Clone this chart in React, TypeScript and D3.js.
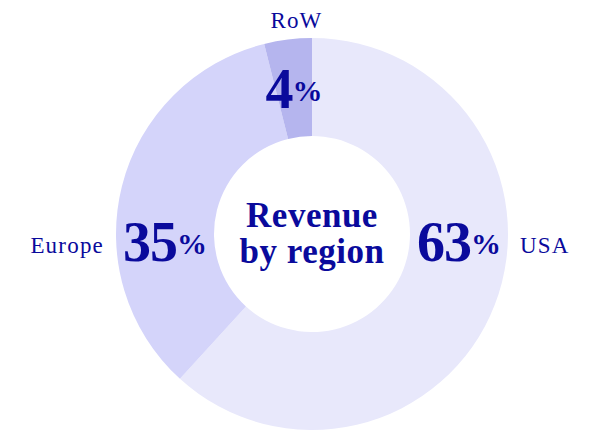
import { useEffect, useRef } from 'react';
import * as d3 from 'd3';

const regions = ['USA', 'Europe', 'RoW'];
const shares = [63, 35, 4];
const fills = ['#e8e8fb', '#d4d4fa', '#b5b5ee'];
const titleLines = ['Revenue', 'by region'];

const W = 595;
const H = 430;
const INK = '#0a0a9c';

export default function App() {
    const svgRef = useRef<SVGSVGElement>(null);

    useEffect(() => {
        if (!svgRef.current) return;
        d3.select(svgRef.current).selectAll('*').remove();

        const cx = 312;
        const cy = 234;
        const outer = 196;
        const inner = 98;
        const mid = (outer + inner) / 2;

        const data = regions.map((name, i) => ({ name, value: shares[i], fill: fills[i] }));

        const pie = d3.pie<typeof data[0]>()
            .sort(null)
            .value(d => d.value);

        const arc = d3.arc<d3.PieArcDatum<typeof data[0]>>()
            .innerRadius(inner)
            .outerRadius(outer);

        const arcs = pie(data);

        const svg = d3.select(svgRef.current);
        const g = svg.append('g').attr('transform', `translate(${cx},${cy})`);

        g.selectAll('path')
            .data(arcs)
            .enter()
            .append('path')
            .attr('d', arc)
            .attr('fill', d => d.data.fill);

        // side slices get their labels at 3 / 9 o'clock, small ones at the centroid
        const labelAngle = (d: d3.PieArcDatum<typeof data[0]>) => {
            if (d.startAngle <= Math.PI / 2 && d.endAngle >= Math.PI / 2) return Math.PI / 2;
            if (d.startAngle <= Math.PI * 1.5 && d.endAngle >= Math.PI * 1.5) return Math.PI * 1.5;
            return (d.startAngle + d.endAngle) / 2;
        };

        arcs.forEach(d => {
            const a = labelAngle(d);
            const side = Math.abs(Math.sin(a));
            const yc = -mid * Math.cos(a) + 8 * side;
            const x = mid * Math.sin(a);

            const t = g.append('text')
                .attr('x', x)
                .attr('y', yc + 19)
                .attr('text-anchor', 'middle')
                .style('font-family', '"Liberation Serif", "Times New Roman", serif')
                .style('font-weight', 700)
                .style('fill', INK);
            t.append('tspan')
                .style('font-size', '56px')
                .style('letter-spacing', '-1px')
                .text(d.data.value);
            t.append('tspan')
                .attr('dy', -7)
                .style('font-size', '30px')
                .text('%');

            const r2 = outer + 12;
            const nx = r2 * Math.sin(a);
            const ny = -r2 * Math.cos(a);
            const anchor = Math.sin(a) > 0.3 ? 'start' : Math.sin(a) < -0.3 ? 'end' : 'middle';
            g.append('text')
                .attr('x', anchor === 'middle' ? nx + 10 : nx)
                .attr('y', anchor === 'middle' ? ny : ny + 19)
                .attr('text-anchor', anchor)
                .style('font-family', '"Liberation Serif", "Times New Roman", serif')
                .style('font-size', '23px')
                .style('letter-spacing', '1.2px')
                .style('fill', INK)
                .text(d.data.name);
        });

        const title = g.append('text')
            .attr('text-anchor', 'middle')
            .style('font-family', '"Liberation Serif", "Times New Roman", serif')
            .style('font-weight', 700)
            .style('font-size', '35px')
            .style('letter-spacing', '0.5px')
            .style('fill', INK);
        titleLines.forEach((line, i) => {
            title.append('tspan')
                .attr('x', 0)
                .attr('y', -7 + i * 36)
                .text(line);
        });
    }, []);

    return (
        <svg
            ref={svgRef}
            width={W}
            height={H}
            style={{ position: 'absolute', left: 0, top: 0, display: 'block', background: '#fff' }}
        />
    );
}
